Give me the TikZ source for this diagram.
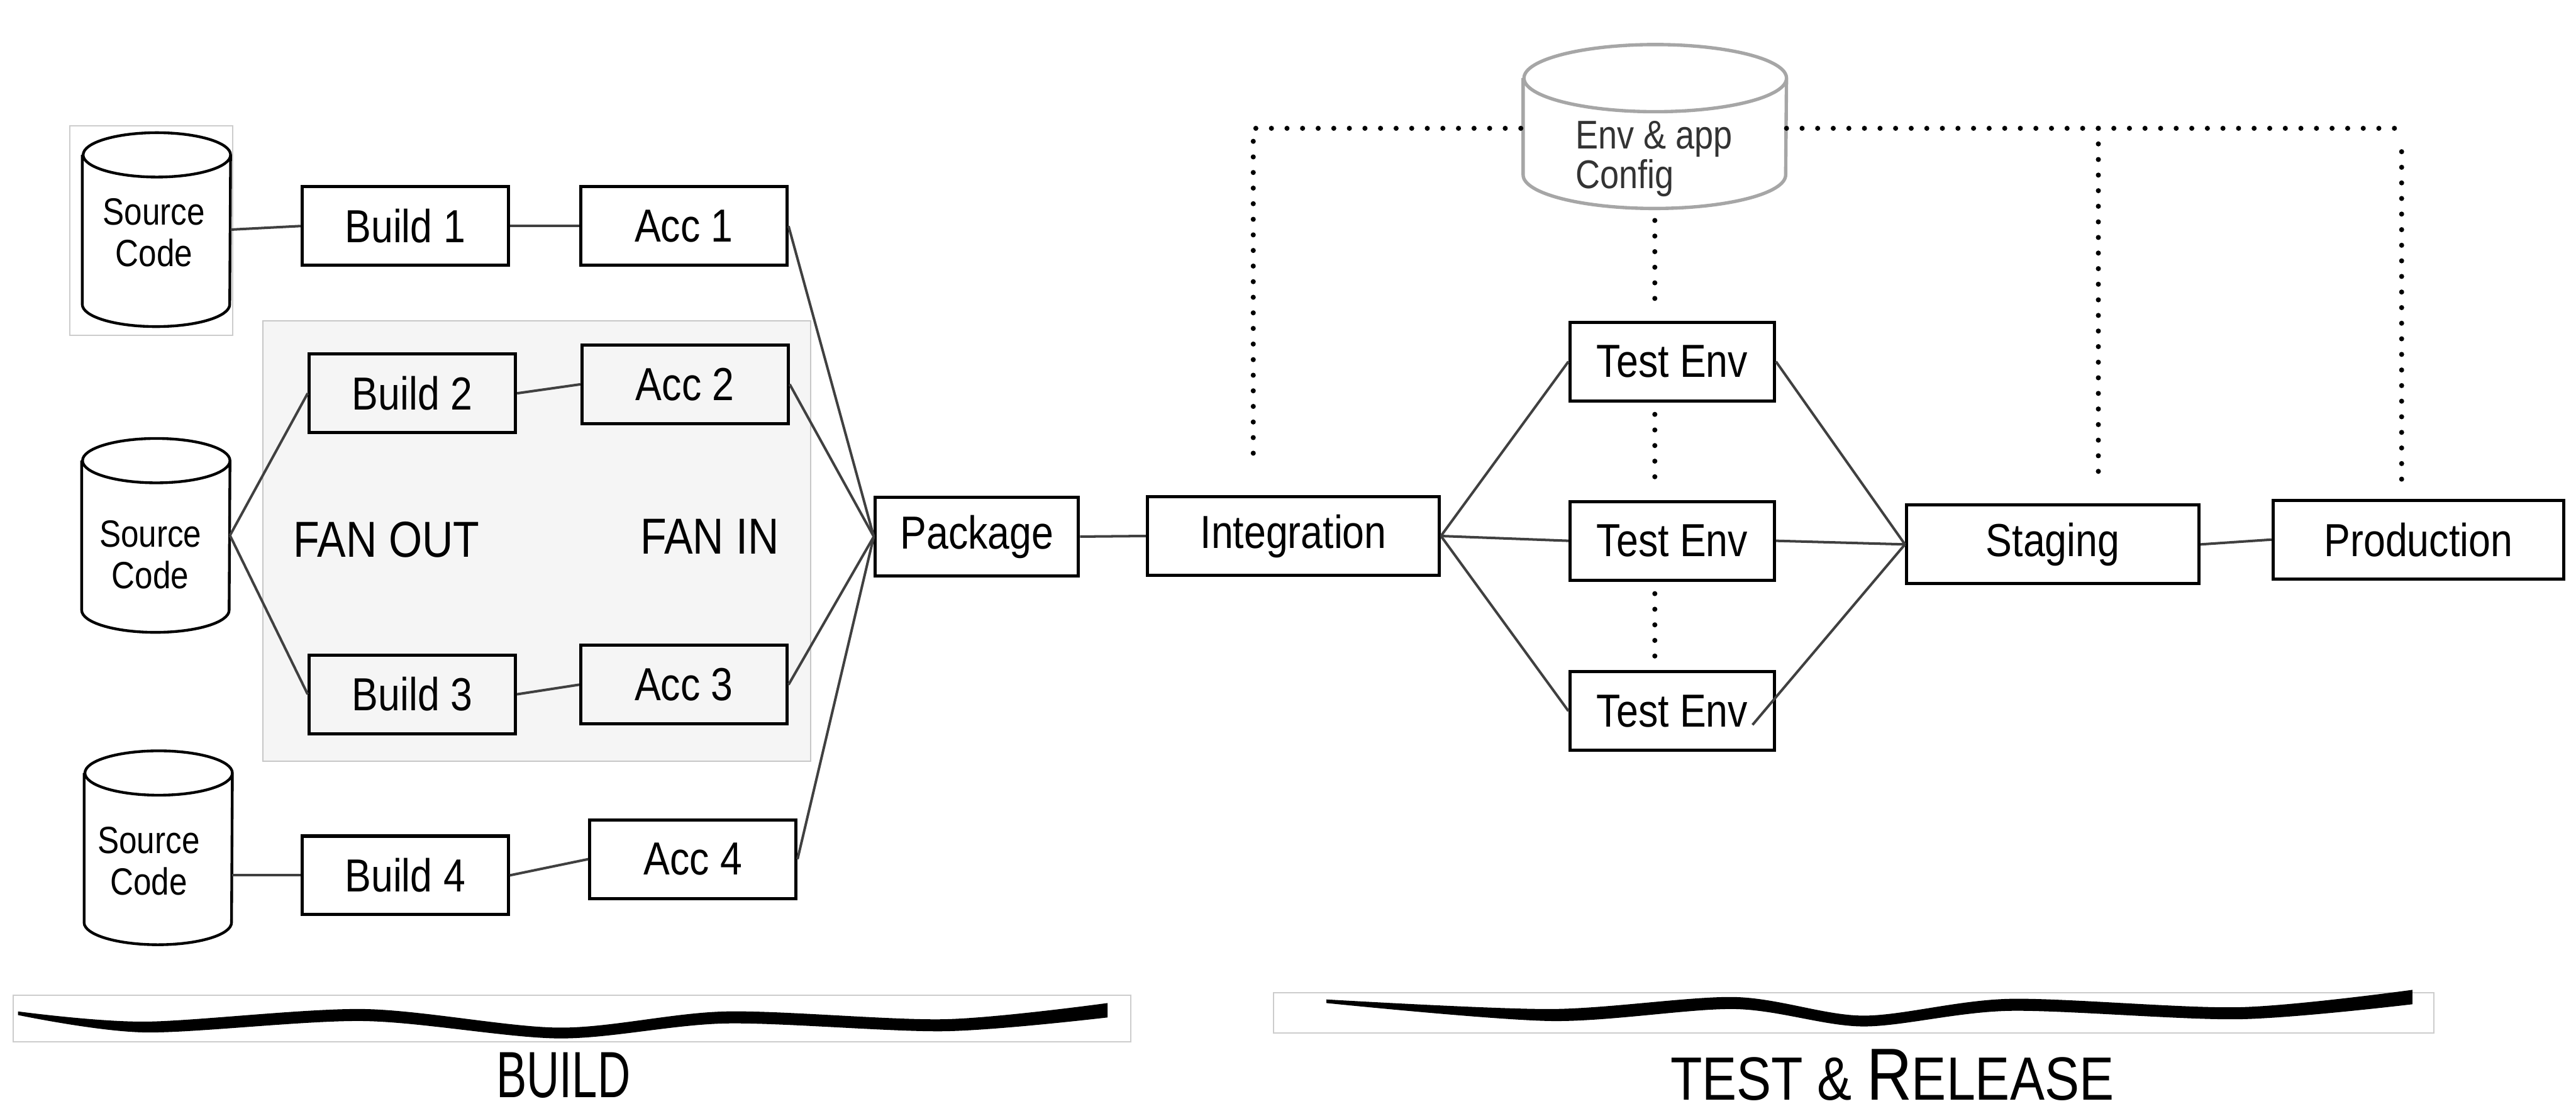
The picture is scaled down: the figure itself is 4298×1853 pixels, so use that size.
\documentclass[tikz,border=0pt]{standalone}
\usepackage{fontspec}
\setmainfont{Liberation Sans}[FakeStretch=0.85]

% contorno de cilindro alrededor de un nodo: [opciones]{nodo}{radio x}{radio y}
\newcommand{\drawcan}[4][]{%
    \draw[line width=1.3pt, #1] ([yshift=-#4]#2.north west) -- ([yshift=#4]#2.south west)
        arc[start angle=180, end angle=360, x radius=#3, y radius=#4]
        -- ([yshift=-#4]#2.north east)
        arc[start angle=0, end angle=180, x radius=#3, y radius=#4]
        arc[start angle=180, end angle=360, x radius=#3, y radius=#4];
}

\begin{document}
\begin{tikzpicture}[x=0.1mm, y=-0.1mm,
    stage/.style={draw, line width=1.5pt, minimum width=34.4mm, minimum height=13.1mm, inner sep=0pt, font=\fontsize{22}{24}\selectfont},
    widestage/.style={stage, minimum width=48.7mm},
    can/.style={minimum width=24.6mm, minimum height=32.2mm, inner sep=0pt},
    cantext/.style={align=center, inner sep=0pt, font=\fontsize{18}{19.6}\selectfont},
    link/.style={draw=black!75, line width=1.2pt},
    cfgline/.style={line width=2.4pt, line cap=round, dash pattern=on 0pt off 7.4pt},
    frame/.style={draw=black!20, line width=0.6pt}]
    \useasboundingbox (0,0) rectangle (4298,1853);
    % Marcos y zona fan out / fan in
    \draw[frame] (116,210) rectangle (388,559);
    \draw[frame] (22,1660) rectangle (1887,1738);
    \draw[frame] (2125,1656) rectangle (4061,1723);
    \filldraw[fill=black!4, draw=black!22, line width=0.6pt] (439,535) rectangle (1353,1270);
    % Build
    \node[can] (sc1) at (261,383) {};
    \node[can] (sc2) at (260,893) {};
    \node[can] (sc3) at (264,1414) {};
    \drawcan{sc1}{12.3mm}{3.7mm}
    \drawcan{sc2}{12.3mm}{3.7mm}
    \drawcan{sc3}{12.3mm}{3.7mm}
    \node[cantext] (sc1txt) at (257,388) {Source\\Code};
    \node[cantext] (sc2txt) at (251,925) {Source\\Code};
    \node[cantext] (sc3txt) at (248,1436) {Source\\Code};
    \node[stage] (b1) at (676,377) {Build 1};
    \node[stage] (a1) at (1141,377) {Acc 1};
    \node[stage] (b2) at (688,656) {Build 2};
    \node[stage] (a2) at (1143,641) {Acc 2};
    \node[stage] (b3) at (688,1158) {Build 3};
    \node[stage] (a3) at (1141,1142) {Acc 3};
    \node[stage] (b4) at (676,1460) {Build 4};
    \node[stage] (a4) at (1156,1433) {Acc 4};
    \node[font=\fontsize{24}{26}\selectfont] (fanout) at (645,900) {FAN OUT};
    \node[font=\fontsize{24}{26}\selectfont] (fanin) at (1184,895) {FAN IN};
    \node[stage, minimum width=33.9mm] (pkg) at (1630,895) {Package};
    % Test & release
    \node[widestage] (intg) at (2158,894) {Integration};
    \node[stage, minimum width=34.1mm] (te1) at (2790,603) {Test Env};
    \node[stage, minimum width=34.1mm] (te2) at (2790,902) {Test Env};
    \node[stage, minimum width=34.1mm] (te3) at (2790,1186) {Test Env};
    \node[widestage, minimum width=48.8mm] (stg) at (3425,908) {Staging};
    \node[widestage, minimum width=48.5mm] (prod) at (4035,900) {Production};
    \node[can, minimum width=43.8mm, minimum height=27.2mm] (cfg) at (2761,211) {};
    \drawcan[draw=black!35, line width=1.6pt]{cfg}{21.9mm}{5.6mm}
    \node[cantext, anchor=west, align=left, text=black!80, font=\fontsize{19}{16.5}\selectfont] (cfgtxt) at (2628,265) {Env \& app\\Config};
    % Conexiones
    \draw[link] (sc1.east) -- (b1.west);
    \draw[link] (b1.east) -- (a1.west);
    \draw[link] (sc2.east) -- (b2.west);
    \draw[link] (sc2.east) -- (b3.west);
    \draw[link] (b2.east) -- (a2.west);
    \draw[link] (b3.east) -- (a3.west);
    \draw[link] (b4.west -| sc3.east) -- (b4.west);
    \draw[link] (b4.east) -- (a4.west);
    \foreach \acc in {a1,a2,a3,a4}
        \draw[link] (\acc.east) -- (pkg.west);
    \draw[link] (pkg.east) -- (intg.west);
    \foreach \env in {te1,te2,te3}
        \draw[link] (intg.east) -- (\env.west);
    \coordinate (te3in) at (2924,1209);
    \draw[link] (te1.east) -- (stg.west);
    \draw[link] (te2.east) -- (stg.west);
    \draw[link] (te3in) -- (stg.west);
    \draw[link] (stg.east) -- (prod.west);
    % Lineas de configuracion
    \coordinate (cl) at (2091,214);
    \coordinate (cr) at (4002,214);
    \coordinate (cs) at (3501,214);
    \coordinate (cp) at (4007,253);
    \draw[cfgline, shorten <=7mm] (intg.north -| cl) -- (cl) -- (cfg.west |- cl);
    \draw[cfgline] (cfg.east |- cr) -- (cr);
    \draw[cfgline, shorten >=3mm] (cs) -- (cs |- stg.north);
    \draw[cfgline, shorten >=3mm] (cp) -- (cp |- prod.north);
    \draw[cfgline, shorten <=2mm, shorten >=2mm] (cfg.south) -- (cfg.south |- te1.north);
    \draw[cfgline, shorten <=2mm, shorten >=2mm] (cfg.south |- te1.south) -- (cfg.south |- te2.north);
    \draw[cfgline, shorten <=2mm, shorten >=2mm] (cfg.south |- te2.south) -- (cfg.south |- te3.north);
    % Llaves
    \fill plot[smooth] coordinates {(30,1687) (242,1704) (606,1683) (933,1714) (1212,1687) (1576,1700) (1848,1673)}
        -- plot[smooth] coordinates {(1848,1697) (1576,1720) (1212,1707) (933,1732) (606,1703) (242,1722) (30,1693)} -- cycle;
    \fill plot[smooth] coordinates {(2213,1667) (2588,1683) (2894,1663) (3108,1694) (3353,1666) (3735,1680) (4025,1651)}
        -- plot[smooth] coordinates {(4025,1675) (3735,1700) (3353,1686) (3108,1712) (2894,1683) (2588,1703) (2213,1673)} -- cycle;
    \node[font=\fontsize{31}{34}\selectfont] (buildlbl) at (940,1794) {\scalebox{0.82}[1]{BUILD}};
    \node (rellbl) at (3157,1793) {{\fontsize{29}{32}\selectfont TEST \& }{\fontsize{35}{32}\selectfont R}{\fontsize{29}{32}\selectfont ELEASE}};
\end{tikzpicture}
\end{document}
